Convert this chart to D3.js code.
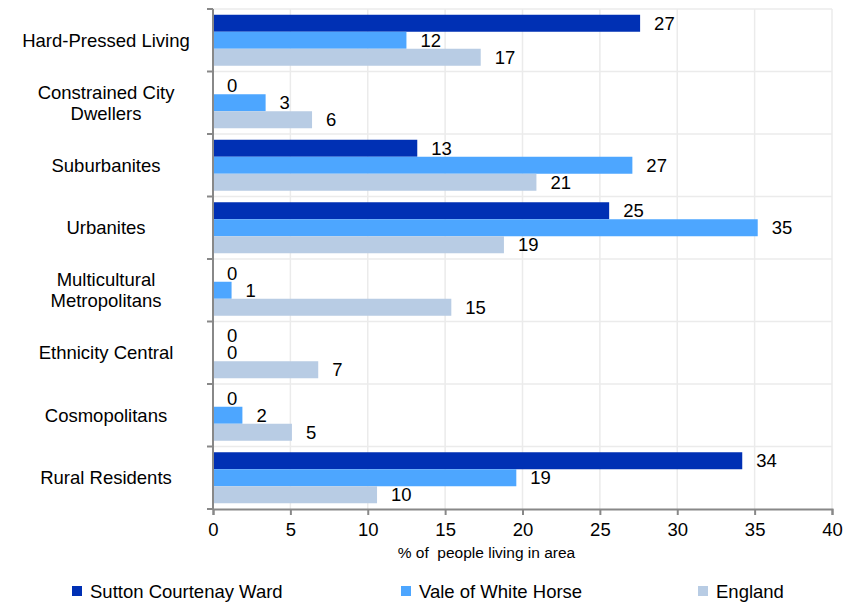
<!DOCTYPE html>
<html>
<head>
<meta charset="utf-8">
<script src="https://cdn.jsdelivr.net/npm/d3@7"></script>
<style>
  body { margin: 0; background: #fff; }
  svg text { font-family: "Liberation Sans", Arial, sans-serif; fill: #000; }
</style>
</head>
<body>
<svg id="chart" width="852" height="602"></svg>
<script>
// categories (top to bottom)
const categories = ["Hard-Pressed Living", "Constrained City Dwellers", "Suburbanites", "Urbanites",
  "Multicultural Metropolitans", "Ethnicity Central", "Cosmopolitans", "Rural Residents"];
const catLines = [["Hard-Pressed Living"], ["Constrained City", "Dwellers"], ["Suburbanites"], ["Urbanites"],
  ["Multicultural", "Metropolitans"], ["Ethnicity Central"], ["Cosmopolitans"], ["Rural Residents"]];

const seriesNames = ["Sutton Courtenay Ward", "Vale of White Horse", "England"];
const seriesColors = ["#0030b4", "#4da6ff", "#b8cce4"];

// bar lengths
const sutton = [27.6, 0, 13.2, 25.6, 0, 0, 0, 34.2];
const vale   = [12.5, 3.4, 27.1, 35.2, 1.2, 0, 1.9, 19.6];
const england = [17.3, 6.4, 20.9, 18.8, 15.4, 6.8, 5.1, 10.6];
// data labels as printed
const suttonLbl = [27, 0, 13, 25, 0, 0, 0, 34];
const valeLbl   = [12, 3, 27, 35, 1, 0, 2, 19];
const englandLbl = [17, 6, 21, 19, 15, 7, 5, 10];

const xTicks = [0, 5, 10, 15, 20, 25, 30, 35, 40];

var svg = d3.select("#chart"),
    margin = { top: 9, right: 20, bottom: 93, left: 213 },
    iwidth = +svg.attr("width") - margin.left - margin.right,
    iheight = +svg.attr("height") - margin.top - margin.bottom,
    g = svg.append("g").attr("transform", "translate(" + margin.left + "," + margin.top + ")");

const x = d3.scaleLinear().domain([0, 40]).range([0, iwidth]);
const y = d3.scaleBand().domain(categories).range([0, iheight]);
const inner = d3.scaleBand().domain(seriesNames).range([0, 51]);

// gridlines
g.append("g").selectAll("line.v").data(xTicks.slice(1)).enter().append("line")
  .attr("x1", d => x(d)).attr("x2", d => x(d)).attr("y1", 0).attr("y2", iheight)
  .attr("stroke", "#ebebeb").attr("stroke-width", 1.5);
g.append("g").selectAll("line.h").data(categories).enter().append("line")
  .attr("x1", 0).attr("x2", iwidth).attr("y1", d => y(d)).attr("y2", d => y(d))
  .attr("stroke", "#ebebeb").attr("stroke-width", 1.5);

// bars
const series = [
  { name: seriesNames[0], vals: sutton, lbl: suttonLbl, color: seriesColors[0] },
  { name: seriesNames[1], vals: vale, lbl: valeLbl, color: seriesColors[1] },
  { name: seriesNames[2], vals: england, lbl: englandLbl, color: seriesColors[2] }
];
const offset = (y.bandwidth() - 51) / 2;

series.forEach(s => {
  const rows = categories.map((c, i) => ({ c: c, v: s.vals[i], l: s.lbl[i] }));
  g.append("g").selectAll("rect").data(rows).enter().append("rect")
    .attr("x", 0)
    .attr("y", d => y(d.c) + offset + inner(s.name))
    .attr("width", d => x(d.v))
    .attr("height", inner.bandwidth())
    .attr("fill", s.color);
  g.append("g").selectAll("text").data(rows).enter().append("text")
    .attr("x", d => x(d.v) + 14)
    .attr("y", d => y(d.c) + offset + inner(s.name) + inner.bandwidth() / 2)
    .attr("dy", "0.36em")
    .attr("font-size", 18.5)
    .text(d => d.l);
});

// left axis
g.append("line").attr("x1", 0).attr("x2", 0).attr("y1", 0).attr("y2", iheight)
  .attr("stroke", "#888").attr("stroke-width", 2);
g.append("g").selectAll("line").data(categories.concat(["end"])).enter().append("line")
  .attr("x1", -6).attr("x2", 0)
  .attr("y1", (d, i) => i * y.step()).attr("y2", (d, i) => i * y.step())
  .attr("stroke", "#888").attr("stroke-width", 2);

// category labels
const catG = g.append("g").selectAll("text").data(categories).enter().append("text")
  .attr("text-anchor", "middle")
  .attr("font-size", 18.5)
  .attr("x", -107)
  .attr("y", (d, i) => y(d) + y.bandwidth() / 2 - (catLines[i].length - 1) * 10.5);
catG.each(function (d, i) {
  d3.select(this).selectAll("tspan").data(catLines[i]).enter().append("tspan")
    .attr("x", -107)
    .attr("dy", (t, j) => j === 0 ? "0.36em" : 21)
    .text(t => t);
});

// bottom axis
const xAxis = g.append("g")
  .attr("transform", "translate(0," + iheight + ")")
  .call(d3.axisBottom(x).tickValues(xTicks).tickSize(6).tickPadding(8));
xAxis.select(".domain").attr("stroke", "#888").attr("stroke-width", 2);
xAxis.selectAll(".tick line").attr("stroke", "#888").attr("stroke-width", 2);
xAxis.selectAll(".tick text").attr("font-size", 18.5).attr("font-family", "Liberation Sans, Arial, sans-serif").attr("fill", "#000");

g.append("text")
  .attr("x", iwidth / 2 - 36)
  .attr("y", iheight + 49)
  .attr("text-anchor", "middle")
  .attr("font-size", 15.5)
  .attr("xml:space", "preserve")
  .text("% of  people living in area");

// legend
const legX = [72, 401, 698];
const legend = svg.append("g").selectAll("g").data(series).enter().append("g")
  .attr("transform", (d, i) => "translate(" + legX[i] + ",591)");
legend.append("rect").attr("x", 0).attr("y", -5).attr("width", 10).attr("height", 10)
  .attr("fill", d => d.color);
legend.append("text").attr("x", 18).attr("y", 0).attr("dy", "0.36em")
  .attr("font-size", 18.5).text(d => d.name);
</script>
</body>
</html>
